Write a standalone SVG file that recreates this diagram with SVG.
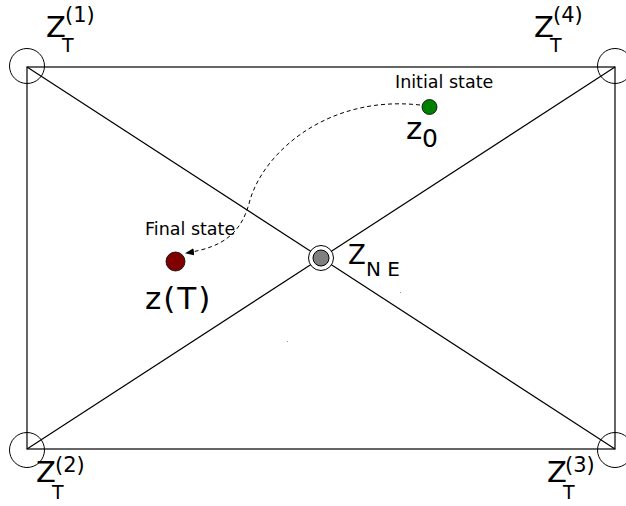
<svg xmlns="http://www.w3.org/2000/svg" width="626" height="506" viewBox="0 0 626 506">
<style>
  .ln { stroke: #000; stroke-width: 1.2; fill: none; }
  .corner { stroke: #000; stroke-width: 1; fill: none; }
  text { font-family: "DejaVu Sans", "Liberation Sans", sans-serif; fill: #000; }
  .big { font-size: 29px; }
  .sub { font-size: 19px; }
  .sup { font-size: 21px; }
  .small { font-size: 17.5px; }
</style>
<defs>
  <marker id="arr" markerWidth="10" markerHeight="8" refX="8" refY="4" orient="auto" markerUnits="userSpaceOnUse">
    <path d="M0,0.5 L9,4 L0,7.5 Z" fill="#000"/>
  </marker>
</defs>
<rect width="626" height="506" fill="#fff"/>
<g id="connectors">
  <rect x="27" y="67" width="588" height="382" class="ln"/>
  <line x1="27" y1="67" x2="615" y2="449" class="ln"/>
  <line x1="27" y1="449" x2="615" y2="67" class="ln"/>
  <path d="M420,105 C330,95 265,150 250,200 C242,232 225,247 186,253" fill="none" stroke="#000" stroke-width="1" stroke-dasharray="4,3" marker-end="url(#arr)"/>
</g>
<g id="corner1">
  <circle cx="27" cy="66" r="17.5" class="corner"/>
  <text class="big"><tspan x="46" y="37">Z</tspan><tspan class="sub" x="62" y="52">T</tspan><tspan class="sup" x="65" y="22">(1)</tspan></text>
</g>
<g id="corner4">
  <circle cx="615" cy="66" r="17.5" class="corner"/>
  <text class="big"><tspan x="534" y="37">Z</tspan><tspan class="sub" x="550" y="52">T</tspan><tspan class="sup" x="553" y="22">(4)</tspan></text>
</g>
<g id="corner2">
  <circle cx="27" cy="450" r="17.5" class="corner"/>
  <text class="big"><tspan x="36" y="482">Z</tspan><tspan class="sub" x="52" y="499">T</tspan><tspan class="sup" x="55" y="472">(2)</tspan></text>
</g>
<g id="corner3">
  <circle cx="615" cy="450" r="17.5" class="corner"/>
  <text class="big"><tspan x="547" y="482">Z</tspan><tspan class="sub" x="563" y="499">T</tspan><tspan class="sup" x="565" y="472">(3)</tspan></text>
</g>
<g id="ne">
  <circle cx="321" cy="258" r="12.5" fill="#fff" stroke="#000" stroke-width="1"/>
  <circle cx="321" cy="258" r="8" fill="#808080" stroke="#000" stroke-width="1"/>
  <text style="font-size:26px"><tspan x="348" y="264">Z</tspan><tspan x="366" y="276" style="font-size:20px">N E</tspan></text>
</g>
<g id="initial">
  <circle cx="429.5" cy="107" r="7.5" fill="#008000" stroke="#000" stroke-width="0.8"/>
  <text x="395" y="88" class="small">Initial state</text>
  <text style="font-size:31px"><tspan x="406" y="139">z</tspan><tspan x="422" y="147" style="font-size:25px">0</tspan></text>
</g>
<g id="final">
  <circle cx="175.5" cy="261.5" r="9.5" fill="#800000" stroke="#000" stroke-width="0.8"/>
  <text x="145" y="235" class="small">Final state</text>
  <text x="145" y="309" style="font-size:31px; letter-spacing:2px">z(T)</text>
</g>
<g id="specks" fill="#999">
  <rect x="400" y="292" width="1" height="1"/>
  <rect x="287" y="341" width="1" height="1"/>
</g>
</svg>
